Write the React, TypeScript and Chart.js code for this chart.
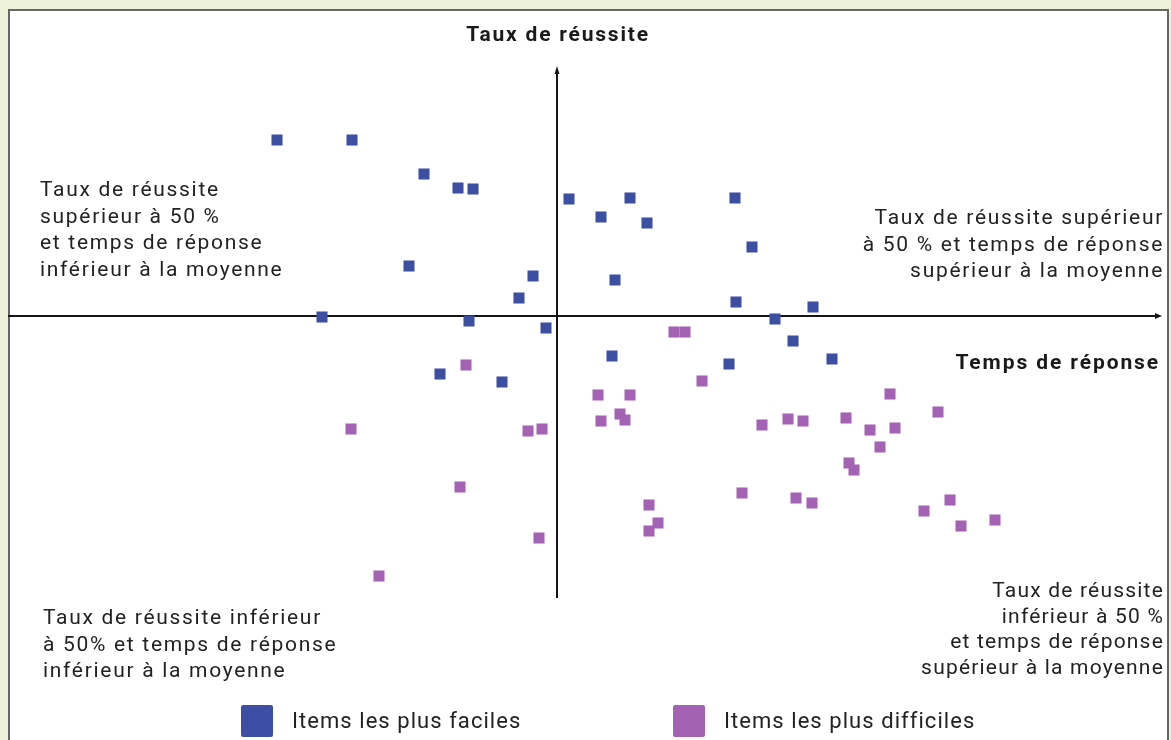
import React, { useEffect, useRef } from "react";
import { Chart, registerables } from "chart.js";

Chart.register(...registerables);

// Easy items (blue): x = response-time deviation, y = success-rate deviation
const easyX = [-28.0, -20.5, -13.3, -9.9, -8.4, 1.2, 7.3, 17.8, 4.4, 9.0, 19.5, -14.8, -2.4, 5.8, -3.8, 17.9, 25.6, -23.5, -8.8, -1.1, 21.8, 23.6, 5.5, 17.2, 27.5, -11.7, -5.5];
const easyY = [17.6, 17.6, 14.2, 12.8, 12.7, 11.7, 11.8, 11.8, 9.9, 9.3, 6.9, 5.0, 4.0, 3.6, 1.8, 1.4, 0.9, -0.1, -0.5, -1.2, -0.3, -2.5, -4.0, -4.8, -4.3, -5.8, -6.6];

// Hard items (purple)
const hardX = [11.7, 12.8, -9.1, 14.5, 4.1, 7.3, 33.3, 6.3, 6.8, 4.4, 38.1, 20.5, 23.1, 24.6, 28.9, 31.3, 33.8, 32.3, -20.6, -2.9, -1.5, 29.2, 29.7, -9.7, 18.5, 23.9, 25.5, 9.2, 39.3, 36.7, 10.1, 9.2, 40.4, 43.8, -1.8, -17.8];
const hardY = [-1.6, -1.6, -4.9, -6.5, -7.9, -7.9, -7.8, -9.8, -10.4, -10.5, -9.6, -10.9, -10.3, -10.5, -10.2, -11.4, -11.2, -13.1, -11.3, -11.5, -11.3, -14.7, -15.4, -17.1, -17.7, -18.2, -18.7, -18.9, -18.4, -19.5, -20.7, -21.5, -21.0, -20.4, -22.2, -26.0];

const seriesLabels = ["Items les plus faciles", "Items les plus difficiles"];
const seriesColors = ["#3d4fa2", "#a462b4"];

const chartTitle = "Taux de réussite";
const xAxisTitle = "Temps de réponse";
const quadTopLeft = ["Taux de réussite", "supérieur à 50 %", "et temps de réponse", "inférieur à la moyenne"];
const quadTopRight = ["Taux de réussite supérieur", "à 50 % et temps de réponse", "supérieur à la moyenne"];
const quadBottomLeft = ["Taux de réussite inférieur", "à 50% et temps de réponse", "inférieur à la moyenne"];
const quadBottomRight = ["Taux de réussite", "inférieur à 50 %", "et temps de réponse", "supérieur à la moyenne"];

const FONT = "Roboto, 'DejaVu Sans', sans-serif";

const axesPlugin = {
  id: "crossAxes",
  beforeDatasetsDraw(chart: any) {
    const { ctx, chartArea, scales } = chart;
    const x0 = scales.x.getPixelForValue(0);
    const y0 = scales.y.getPixelForValue(0);
    ctx.save();
    ctx.strokeStyle = "#151515";
    ctx.fillStyle = "#151515";
    ctx.lineWidth = 2;
    ctx.beginPath();
    ctx.moveTo(chartArea.left, y0);
    ctx.lineTo(chartArea.right, y0);
    ctx.moveTo(x0, chartArea.top);
    ctx.lineTo(x0, chartArea.bottom);
    ctx.stroke();
    // small arrow tips
    ctx.beginPath();
    ctx.moveTo(chartArea.right + 4, y0);
    ctx.lineTo(chartArea.right - 3, y0 - 3);
    ctx.lineTo(chartArea.right - 3, y0 + 3);
    ctx.closePath();
    ctx.fill();
    ctx.beginPath();
    ctx.moveTo(x0, chartArea.top - 4);
    ctx.lineTo(x0 - 2.5, chartArea.top + 4);
    ctx.lineTo(x0 + 2.5, chartArea.top + 4);
    ctx.closePath();
    ctx.fill();
    ctx.restore();
  },
};

const textStyle: React.CSSProperties = {
  position: "absolute",
  fontFamily: FONT,
  fontSize: 21,
  lineHeight: "26.5px",
  color: "#222",
  whiteSpace: "nowrap",
  letterSpacing: "1.7px",
};

export default function App() {
  const canvasRef = useRef<HTMLCanvasElement | null>(null);

  useEffect(() => {
    const canvas = canvasRef.current;
    if (!canvas) return;
    const chart = new Chart(canvas, {
      type: "scatter",
      data: {
        datasets: [
          {
            label: seriesLabels[0],
            data: easyX.map((x, i) => ({ x, y: easyY[i] })),
            backgroundColor: seriesColors[0],
            borderWidth: 0,
            pointStyle: "rect",
            pointRadius: 7.8,
          },
          {
            label: seriesLabels[1],
            data: hardX.map((x, i) => ({ x, y: hardY[i] })),
            backgroundColor: seriesColors[1],
            borderWidth: 0,
            pointStyle: "rect",
            pointRadius: 7.8,
          },
        ],
      },
      options: {
        animation: false,
        responsive: false,
        maintainAspectRatio: false,
        layout: { padding: { left: 8, right: 13, top: 70, bottom: 142 } },
        scales: {
          x: { type: "linear", min: -54.9, max: 60.1, display: false },
          y: { type: "linear", min: -28.2, max: 24.6, display: false },
        },
        plugins: {
          legend: { display: false },
          tooltip: { enabled: false },
        },
        elements: { point: { hoverRadius: 7.8 } },
        clip: false as any,
      },
      plugins: [axesPlugin],
    });
    return () => chart.destroy();
  }, []);

  return (
    <div style={{ position: "fixed", left: 0, top: 0, width: 1171, height: 740, background: "#eef1d9", overflow: "hidden" }}>
      <div
        style={{
          position: "absolute",
          left: 8,
          top: 9,
          width: 1157,
          height: 740,
          background: "#ffffff",
          borderLeft: "2px solid #666",
          borderTop: "2px solid #666",
          borderRight: "2px solid #666",
        }}
      />
      <canvas ref={canvasRef} width={1171} height={740} style={{ position: "absolute", left: 0, top: 0, width: 1171, height: 740 }} />
      <div style={{ ...textStyle, left: 558, top: 21, transform: "translateX(-50%)", fontWeight: 700, color: "#1a1a1a", letterSpacing: "1.8px" }}>{chartTitle}</div>
      <div style={{ ...textStyle, right: 1171 - 1160, top: 349, fontWeight: 700, color: "#1a1a1a", letterSpacing: "1.9px" }}>{xAxisTitle}</div>
      <div style={{ ...textStyle, left: 40, top: 176 }}>
        {quadTopLeft.map((t, i) => (
          <div key={i}>{t}</div>
        ))}
      </div>
      <div style={{ ...textStyle, right: 1171 - 1164, top: 204, textAlign: "right" }}>
        {quadTopRight.map((t, i) => (
          <div key={i}>{t}</div>
        ))}
      </div>
      <div style={{ ...textStyle, left: 43, top: 604 }}>
        {quadBottomLeft.map((t, i) => (
          <div key={i}>{t}</div>
        ))}
      </div>
      <div style={{ ...textStyle, right: 1171 - 1164, top: 578, textAlign: "right", lineHeight: "25.7px", letterSpacing: "1.2px" }}>
        {quadBottomRight.map((t, i) => (
          <div key={i}>{t}</div>
        ))}
      </div>
      {seriesLabels.map((lab, i) => (
        <div key={lab} style={{ position: "absolute", left: i === 0 ? 241 : 673, top: 705, display: "flex", alignItems: "center" }}>
          <div style={{ width: 32, height: 32, background: seriesColors[i], borderRadius: 2 }} />
          <div style={{ ...textStyle, position: "static", marginLeft: 19, fontSize: 22, letterSpacing: "1.05px" }}>{lab}</div>
        </div>
      ))}
    </div>
  );
}
